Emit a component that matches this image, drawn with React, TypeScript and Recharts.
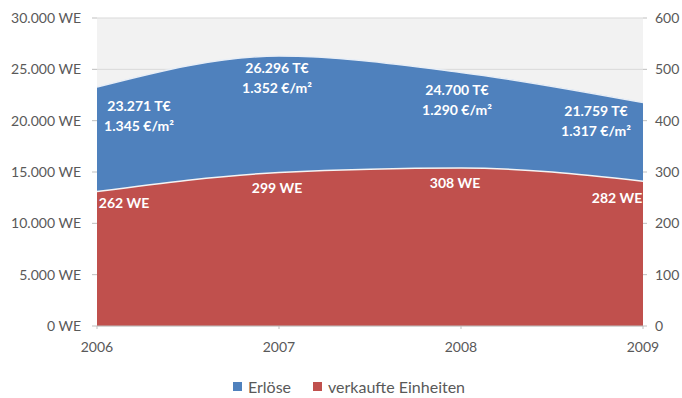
import React from "react";
import {
  AreaChart,
  Area,
  XAxis,
  YAxis,
  CartesianGrid,
  Legend,
  LabelList,
} from "recharts";

const years = ["2006", "2007", "2008", "2009"];
// Erlöse in T€
const erloese = [23271, 26296, 24700, 21759];
// Preis je m²
const preisQm = [1345, 1352, 1290, 1317];
// verkaufte Einheiten (WE)
const einheiten = [262, 299, 308, 282];

const leftTicks = [0, 5000, 10000, 15000, 20000, 25000, 30000];
const rightTicks = [0, 100, 200, 300, 400, 500, 600];

// label placement relative to the data point
const blueOffsets = [
  { dx: 42, dy: 19 },
  { dx: -2, dy: 12 },
  { dx: -4, dy: 18 },
  { dx: -47, dy: 8 },
];
const redOffsets = [
  { dx: 27, dy: 12 },
  { dx: -2, dy: 16 },
  { dx: -6, dy: 15 },
  { dx: -26, dy: 17 },
];

const BLUE = "#4f81bd";
const RED = "#c0504d";
const FONT = "Lato, 'Open Sans', sans-serif";
const TICK = { fill: "#595959", fontSize: 14, fontFamily: FONT };

const fmt = (n: number) =>
  String(n).replace(/\B(?=(\d{3})+(?!\d))/g, ".");

const data = years.map((year, i) => ({
  year,
  erloese: erloese[i],
  preis: preisQm[i],
  einheiten: einheiten[i],
}));

const BlueLabel = (props: any) => {
  const { x, y, index } = props;
  const o = blueOffsets[index];
  return (
    <text
      x={x + o.dx}
      y={y + o.dy}
      textAnchor="middle"
      fill="#fff"
      fontFamily={FONT}
      fontWeight="bold"
      fontSize={14}
    >
      <tspan x={x + o.dx} dy="0.35em">
        {fmt(erloese[index])} T€
      </tspan>
      <tspan x={x + o.dx} dy="20">
        {fmt(preisQm[index])} €/m²
      </tspan>
    </text>
  );
};

const RedLabel = (props: any) => {
  const { x, y, index } = props;
  const o = redOffsets[index];
  return (
    <text
      x={x + o.dx}
      y={y + o.dy}
      dy="0.35em"
      textAnchor="middle"
      fill="#fff"
      fontFamily={FONT}
      fontWeight="bold"
      fontSize={14}
    >
      {einheiten[index]} WE
    </text>
  );
};

const renderLegend = () => (
  <div
    style={{
      display: "flex",
      justifyContent: "center",
      gap: 22,
      fontFamily: FONT,
      fontSize: 16,
      color: "#595959",
      paddingLeft: 16,
      paddingTop: 11,
    }}
  >
    {[
      { name: "Erlöse", color: BLUE },
      { name: "verkaufte Einheiten", color: RED },
    ].map((item) => (
      <span key={item.name} style={{ display: "flex", alignItems: "center" }}>
        <span
          style={{
            width: 9,
            height: 9,
            background: item.color,
            marginRight: 6,
            display: "inline-block",
          }}
        />
        {item.name}
      </span>
    ))}
  </div>
);

export default function App() {
  return (
    <div style={{ position: "absolute", left: 0, top: 0, background: "#fff" }}>
      <AreaChart
        width={682}
        height={398}
        data={data}
        margin={{ top: 18, right: 0, bottom: 2, left: 0 }}
      >
        <CartesianGrid
          vertical={false}
          stroke="#d9d9d9"
          fill="#f2f2f2"
          yAxisId="left"
        />
        <XAxis
          dataKey="year"
          height={40}
          tickMargin={13}
          tickSize={3}
          stroke="#bfbfbf"
          tick={TICK}
        />
        <YAxis
          yAxisId="left"
          width={97}
          domain={[0, 30000]}
          ticks={leftTicks}
          tickFormatter={(v: number) => `${fmt(v)} WE`}
          axisLine={false}
          tickSize={5}
          tickMargin={11}
          tickLine={{ stroke: "#bfbfbf" }}
          tick={TICK}
        />
        <YAxis
          yAxisId="right"
          orientation="right"
          width={39}
          domain={[0, 600]}
          ticks={rightTicks}
          axisLine={false}
          tickSize={4}
          tickMargin={8}
          tickLine={{ stroke: "#bfbfbf" }}
          tick={TICK}
        />
        <Area
          yAxisId="left"
          type="monotone"
          dataKey="erloese"
          name="Erlöse"
          fill={BLUE}
          fillOpacity={1}
          stroke="#e8eef6"
          strokeWidth={1.5}
          isAnimationActive={false}
        >
          <LabelList dataKey="erloese" content={<BlueLabel />} />
        </Area>
        <Area
          yAxisId="right"
          type="monotone"
          dataKey="einheiten"
          name="verkaufte Einheiten"
          fill={RED}
          fillOpacity={1}
          stroke="#f4f4f4"
          strokeWidth={1.5}
          isAnimationActive={false}
        >
          <LabelList dataKey="einheiten" content={<RedLabel />} />
        </Area>
        <Legend verticalAlign="bottom" height={30} content={renderLegend} />
      </AreaChart>
    </div>
  );
}
